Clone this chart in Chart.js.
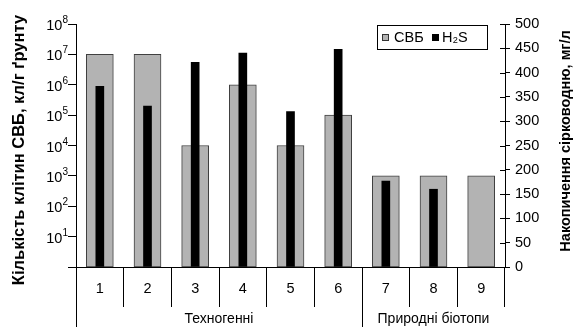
<!DOCTYPE html>
<html><head><meta charset="utf-8">
<script src="https://cdn.jsdelivr.net/npm/chart.js@4/dist/chart.umd.min.js"></script>
<style>html,body{margin:0;padding:0;background:#fff}#wrap{width:575px;height:327px}</style>
</head><body><div id="wrap"><canvas id="c" width="575" height="327"></canvas></div>
<script>
const categories = ['1','2','3','4','5','6','7','8','9'];
const cellCounts = [1e7, 1e7, 1e4, 1e6, 1e4, 1e5, 1e3, 1e3, 1e3];
const h2sValues = [372, 331, 421, 440, 320, 448, 177, 160, null];
const logTickValues = [1, 1e1, 1e2, 1e3, 1e4, 1e5, 1e6, 1e7, 1e8];
const groupLabels = ['Техногенні', 'Природні біотопи'];
const groupStarts = [0, 6];
const groupEnds = [5, 8];
const seriesNames = ['СВБ', 'H₂S'];
const axisTitles = ['Кількість клітин СВБ, кл/г ґрунту', 'Накопичення сірководню, мг/л'];

const FONT = '"Liberation Sans", Arial, sans-serif';

const extras = {
  id: 'extras',
  afterDraw(chart) {
    const ctx = chart.ctx;
    const yl = chart.scales.yl, yr = chart.scales.yr;
    const ca = chart.chartArea;
    ctx.save();
    ctx.strokeStyle = '#000'; ctx.lineWidth = 1;
    ctx.beginPath();
    ctx.moveTo(Math.round(ca.left) + 0.5, ca.bottom); ctx.lineTo(Math.round(ca.left) + 0.5, 327);
    const step = (ca.right - ca.left) / categories.length;
    for (let g = 1; g < groupStarts.length; g++) {
      const bx = Math.round(ca.left + step * groupStarts[g]) + 0.5;
      ctx.moveTo(bx, ca.bottom); ctx.lineTo(bx, 327);
    }
    yr.ticks.forEach(t => {
      const py = Math.round(yr.getPixelForValue(t.value)) + 0.5;
      ctx.moveTo(ca.right - 5, py); ctx.lineTo(ca.right, py);
    });
    ctx.stroke();
    ctx.fillStyle = '#000';
    ctx.font = '14px ' + FONT;
    ctx.textAlign = 'center'; ctx.textBaseline = 'middle';
    groupLabels.forEach((lab, i) => {
      const cx = ca.left + step * (groupStarts[i] + groupEnds[i] + 1) / 2;
      ctx.fillText(lab, cx, 319);
    });
    yl.ticks.forEach(t => {
      if (t.value <= 1) return;
      const exp = String(Math.round(Math.log10(t.value)));
      const py = yl.getPixelForValue(t.value);
      ctx.font = '10px ' + FONT;
      const ew = ctx.measureText(exp).width;
      const right = ca.left - 8;
      ctx.textAlign = 'right'; ctx.textBaseline = 'alphabetic';
      ctx.fillText(exp, right, py - 1);
      ctx.font = '14.5px ' + FONT;
      ctx.fillText('10', right - ew, py + 6);
    });
    // axis titles (both read bottom-to-top)
    ctx.textAlign = 'center'; ctx.textBaseline = 'middle';
    ctx.font = 'bold 16.5px ' + FONT;
    ctx.save(); ctx.translate(19, 150); ctx.rotate(-Math.PI / 2); ctx.fillText(axisTitles[0], 0, 0); ctx.restore();
    ctx.font = 'bold 14.5px ' + FONT;
    ctx.save(); ctx.translate(566, 141); ctx.rotate(-Math.PI / 2); ctx.fillText(axisTitles[1], 0, 0); ctx.restore();
    // legend
    const lx = 377, ly = 25, lw = 110, lh = 24;
    ctx.fillStyle = '#fff';
    ctx.fillRect(lx, ly, lw, lh);
    ctx.strokeRect(lx + 0.5, ly + 0.5, lw, lh);
    ctx.fillStyle = '#b3b3b3';
    ctx.fillRect(382.5, 34.5, 6, 6);
    ctx.strokeStyle = '#333';
    ctx.strokeRect(382.5, 34.5, 6, 6);
    ctx.fillStyle = '#000';
    ctx.fillRect(432, 34, 7, 7);
    ctx.font = '14.5px ' + FONT;
    ctx.textAlign = 'left'; ctx.textBaseline = 'middle';
    ctx.fillText(seriesNames[0], 394, 38);
    ctx.fillText(seriesNames[1], 442, 38);
    ctx.restore();
  }
};

new Chart(document.getElementById('c'), {
  type: 'bar',
  data: {
    labels: categories,
    datasets: [
      { label: seriesNames[1], data: h2sValues, yAxisID: 'yr', backgroundColor: '#000', borderWidth: 0, barThickness: 8, grouped: false, order: 0 },
      { label: seriesNames[0], data: cellCounts, yAxisID: 'yl', backgroundColor: '#b3b3b3', borderColor: '#404040', borderWidth: 1, borderSkipped: false, barThickness: 27, grouped: false, order: 1 }
    ]
  },
  plugins: [extras],
  options: {
    responsive: false, animation: false,
    layout: { padding: { top: 24, left: 0, right: 0, bottom: 0 } },
    plugins: { legend: { display: false }, tooltip: { enabled: false } },
    scales: {
      x: {
        offset: true,
        grid: { offset: true, drawOnChartArea: false, drawTicks: true, tickLength: 40, color: '#000' },
        border: { color: '#000' },
        ticks: { color: '#000', font: { size: 14.5, family: FONT }, padding: -27, maxRotation: 0 },
        afterFit(s) { s.height = 60; }
      },
      yl: {
        type: 'logarithmic', position: 'left', min: 1, max: 1e8,
        afterBuildTicks(s) { s.ticks = logTickValues.map(v => ({ value: v })); },
        grid: { drawOnChartArea: false, tickLength: 8, color: '#000' },
        border: { color: '#000' },
        ticks: { callback: () => '', padding: 0 },
        afterFit(s) { s.width = 76; }
      },
      yr: {
        position: 'right', min: 0, max: 500,
        grid: { drawOnChartArea: false, tickLength: 5, color: '#000' },
        border: { color: '#000' },
        ticks: { stepSize: 50, color: '#000', font: { size: 14.5, family: FONT }, padding: 5 },
        afterFit(s) { s.width = 70; }
      }
    }
  }
});
</script></body></html>
